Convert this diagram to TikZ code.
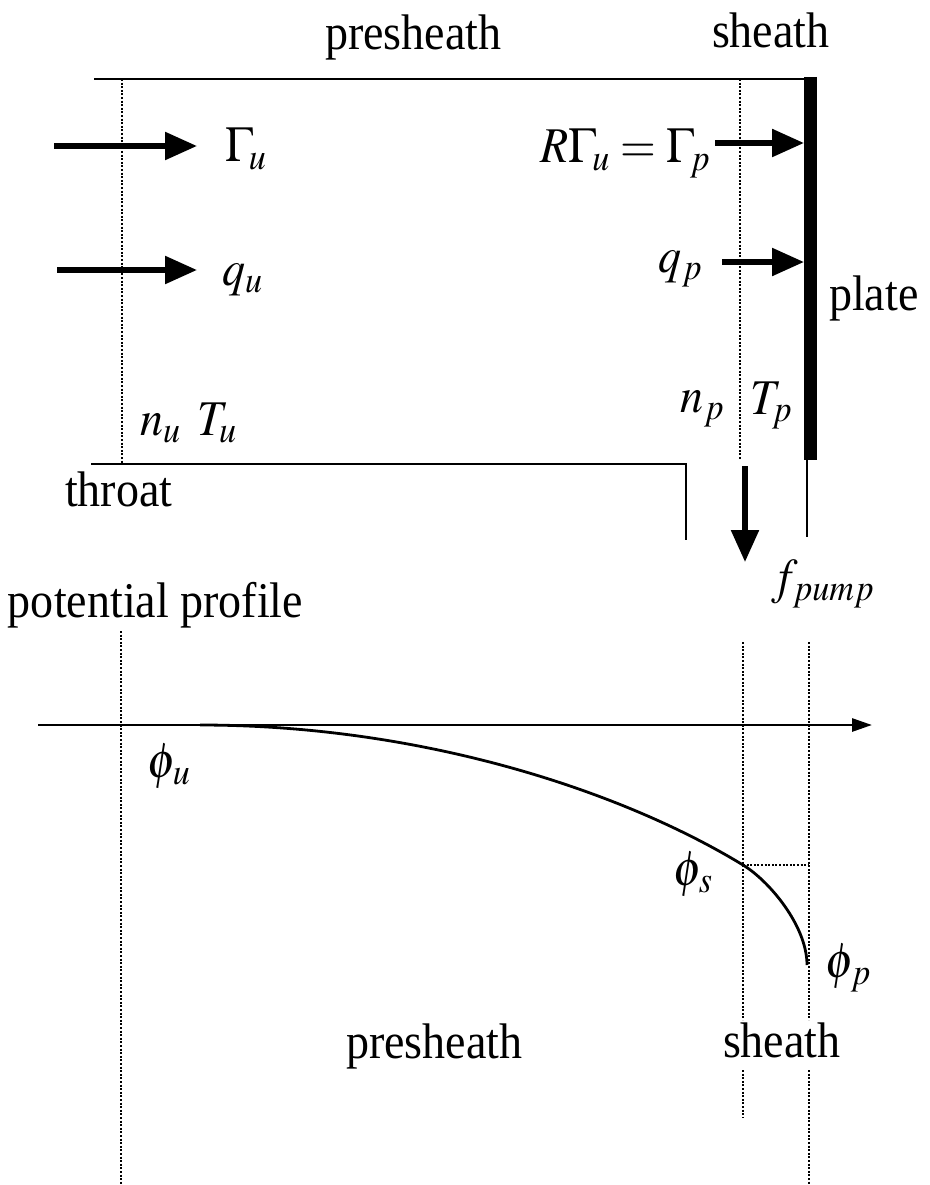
\documentclass[tikz,border=0pt]{standalone}
\usepackage{graphicx}
\usepackage{mathptmx}
\usepackage[no-math]{fontspec}
\setmainfont{Liberation Serif}
\usetikzlibrary{arrows.meta}
\newcommand\sx[1]{\scalebox{0.92}[1]{#1}}
\begin{document}
\begin{tikzpicture}[x=1pt,y=-1pt,
  every node/.style={inner sep=0pt,outer sep=0pt,font=\fontsize{50}{60}\selectfont},
  wall/.style={line width=2.8pt},
  dotline/.style={line width=2pt,dash pattern=on 2pt off 1.6pt},
  bigarrow/.style={line width=5.5pt,-{Triangle[length=32pt,width=27pt]}},
  axisline/.style={line width=2.8pt,-{Triangle[length=20pt,width=13pt]}},
  lbl/.style={anchor=base west},
  lble/.style={anchor=base east}]
\useasboundingbox (0,0) rectangle (929,1185);

% ---- upper part: geometry ----
\coordinate (tl) at (94,79);
\coordinate (tr) at (817,79);
\draw[wall] (tl) -- (tr);
\coordinate (bl) at (91,464);
\coordinate (bc) at (686,464);
\coordinate (bd) at (686,540);
\draw[wall] (bl) -- (bc) -- (bd);
\coordinate (pt) at (810.5,77);
\coordinate (pb) at (810.5,460);
\draw[line width=13pt] (pt) -- (pb);
\coordinate (pt2) at (807,460);
\coordinate (pb2) at (807,537);
\draw[line width=2.4pt] (pt2) -- (pb2);

% dotted boundaries (upper)
\coordinate (du0) at (122,79);
\coordinate (du1) at (122,464);
\draw[dotline] (du0) -- (du1);
\coordinate (ds0) at (740,79);
\coordinate (ds1) at (740,460);
\draw[dotline] (ds0) -- (ds1);

% arrows
\coordinate (ga0) at (54,146);  \coordinate (ga1) at (197,146);
\draw[bigarrow] (ga0) -- (ga1);
\coordinate (qa0) at (57,270);  \coordinate (qa1) at (197,270);
\draw[bigarrow] (qa0) -- (qa1);
\coordinate (gp0) at (715,143); \coordinate (gp1) at (804,143);
\draw[bigarrow] (gp0) -- (gp1);
\coordinate (qp0) at (722,262); \coordinate (qp1) at (804,262);
\draw[bigarrow] (qp0) -- (qp1);
\coordinate (fp0) at (745,466); \coordinate (fp1) at (745,562);
\draw[bigarrow] (fp0) -- (fp1);

% labels (upper)
\node[lbl] (preU) at (325,50) {\sx{presheath}};
\node[lbl] (shU) at (712,48) {\sx{sheath}};
\node[lbl] (Gu) at (225,162) {\sx{$\Gamma_{\!u}$}};
\node[lbl] (qu) at (222,285) {\sx{$q_{u}$}};
\node[lble] (Rg) at (710,163) {\sx{$R\Gamma_{\!u}=\Gamma_{\!p}$}};
\node[lble] (qp) at (702,272) {\sx{$q_p$}};
\node[lbl] (plate) at (829,310) {\sx{plate}};
\node[lbl] (nu) at (140,435) {\sx{$n_u$}};
\node[lbl] (Tu) at (197,435) {\sx{$T_u$}};
\node[lble] (np) at (724,412) {\sx{$n_p$}};
\node[lbl] (Tp) at (750,414) {\sx{$T_p$}};
\node[lbl] (throat) at (65,506) {\sx{throat}};
\node[lbl] (fpump) at (772,593) {\sx{$f_{pump}$}};
\node[lbl] (pot) at (8,617) {\sx{potential profile}};

% ---- lower part: potential profile ----
\coordinate (ax0) at (38,725);
\coordinate (ax1) at (872,725);
\draw[axisline] (ax0) -- (ax1);

\coordinate (dl0) at (121,631);  \coordinate (dl1) at (121,1185);
\draw[dotline] (dl0) -- (dl1);
\coordinate (dm0) at (743,642);  \coordinate (dm1) at (743,1020);
\coordinate (dm2) at (743,1070); \coordinate (dm3) at (743,1117);
\draw[dotline] (dm0) -- (dm1);
\draw[dotline] (dm2) -- (dm3);
\coordinate (dr0) at (809,642);  \coordinate (dr1) at (809,1020);
\coordinate (dr2) at (809,1070); \coordinate (dr3) at (809,1185);
\draw[dotline] (dr0) -- (dr1);
\draw[dotline] (dr2) -- (dr3);
\coordinate (phs) at (743,865);
\coordinate (phs2) at (809,865);
\draw[dotline] (phs) -- (phs2);

\coordinate (c0) at (200,725);
\coordinate (cend) at (807,965);
\draw[line width=2.8pt] (c0) .. controls (420,725) and (620,790) .. (phs)
   .. controls (768,880) and (807,925) .. (cend);

\node[lbl] (phiu) at (147,777) {\sx{$\phi_{\kern2pt u}$}};
\node[lbl] (phis) at (673,885) {\sx{$\phi_{\kern2pt s}$}};
\node[lbl] (phip) at (825,977) {\sx{$\phi_{\kern2pt p}$}};
\node[lbl] (preL) at (346,1058) {\sx{presheath}};
\node[lbl] (shL) at (723,1057) {\sx{sheath}};
\end{tikzpicture}
\end{document}
